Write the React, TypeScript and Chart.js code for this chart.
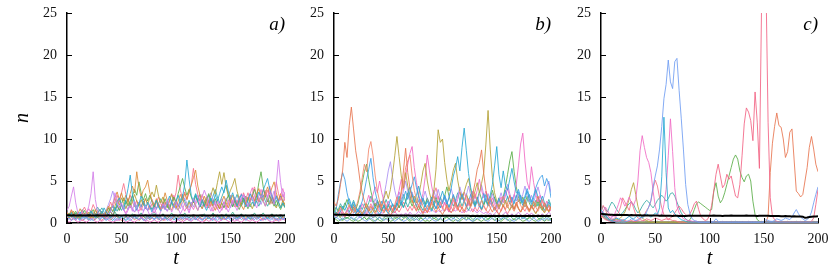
import React, { useEffect, useRef } from 'react';
import { Chart, registerables } from 'chart.js';
Chart.register(...registerables);

// time grid
const T = [
  0,2,4,6,8,10,12,14,16,18, 20,22,24,26,28,30,32,34,36,38,
  40,42,44,46,48,50,52,54,56,58, 60,62,64,66,68,70,72,74,76,78,
  80,82,84,86,88,90,92,94,96,98, 100,102,104,106,108,110,112,114,116,118,
  120,122,124,126,128,130,132,134,136,138, 140,142,144,146,148,150,152,154,156,158,
  160,162,164,166,168,170,172,174,176,178, 180,182,184,186,188,190,192,194,196,198,
  200,
];

const X_TICKS = [0, 50, 100, 150, 200];
const Y_TICKS = [0, 5, 10, 15, 20, 25];
const PANEL_LABELS = ['a)', 'b)', 'c)'];

// ---------- panel a ----------
const MEAN_A = [
  0.92,0.91,0.90,0.91,0.89,0.90,0.91,0.90,0.89,0.90, 0.91,0.90,0.89,0.90,0.91,0.90,0.89,0.90,0.90,0.91,
  0.90,0.89,0.90,0.91,0.90,0.89,0.90,0.91,0.90,0.89, 0.90,0.91,0.90,0.89,0.90,0.90,0.91,0.90,0.89,0.90,
  0.91,0.90,0.89,0.90,0.91,0.90,0.89,0.90,0.90,0.91, 0.90,0.89,0.90,0.91,0.90,0.89,0.90,0.90,0.91,0.90,
  0.89,0.90,0.91,0.90,0.89,0.90,0.90,0.91,0.90,0.89, 0.90,0.91,0.90,0.89,0.90,0.90,0.91,0.90,0.89,0.90,
  0.91,0.90,0.89,0.90,0.90,0.91,0.90,0.89,0.90,0.91, 0.90,0.89,0.90,0.90,0.91,0.90,0.89,0.90,0.91,0.90,
  0.89,
];
const A1 = [
  1.5,2.0,3.2,4.3,2.4,1.2,0.9,1.4,0.8,1.2, 2.0,3.5,6.1,2.8,1.4,1.0,0.7,1.1,0.6,0.9,
  1.4,2.2,3.6,2.5,1.8,2.4,1.6,1.0,1.5,2.1, 1.4,2.6,1.8,1.1,0.8,1.3,2.0,1.5,0.9,1.2,
  1.8,1.1,0.7,1.4,2.3,1.6,2.8,2.0,1.3,1.9, 2.6,1.7,1.1,1.6,2.4,1.8,1.2,2.0,2.9,2.2,
  1.5,2.3,3.1,3.9,3.2,2.1,1.4,1.9,2.6,1.8, 1.2,1.7,2.5,1.9,1.3,2.0,2.7,2.1,1.5,2.2,
  2.9,3.4,2.6,1.9,2.5,3.1,2.4,1.8,2.6,3.3, 2.7,2.0,3.0,3.8,2.9,2.2,4.6,7.5,4.8,3.1,
  3.7,
];
const A2 = [
  1.0,0.7,1.2,0.8,0.5,0.9,1.3,0.8,0.6,1.1, 0.8,1.4,1.0,0.7,1.2,1.6,1.1,1.8,1.3,0.9,
  1.5,2.1,1.4,2.4,3.0,2.2,1.6,2.8,4.1,5.7, 3.4,2.2,1.5,2.3,3.2,2.4,1.7,2.5,1.9,1.3,
  2.0,2.7,1.9,1.4,2.1,1.6,2.4,3.2,2.5,1.8, 2.6,3.3,2.4,3.1,4.6,7.5,5.2,3.3,2.5,3.4,
  2.6,1.9,2.8,2.1,1.5,2.2,3.0,2.3,3.4,2.6, 3.5,4.3,3.6,5.1,3.8,2.9,3.6,2.7,2.0,2.8,
  3.4,2.6,1.9,2.7,3.5,2.8,2.1,2.9,3.7,3.0, 3.9,4.6,5.3,4.0,3.1,2.4,3.2,2.5,1.8,2.4,
  1.9,
];
const A3 = [
  1.2,0.8,1.5,1.0,0.6,1.1,1.7,1.2,0.8,1.3, 1.0,0.6,1.1,1.6,1.0,0.7,1.2,0.8,1.4,2.0,
  1.5,2.3,3.0,3.7,2.8,3.6,2.6,3.3,2.4,3.5, 4.4,3.6,6.1,4.2,3.1,3.9,4.3,5.1,3.6,2.7,
  2.1,2.9,2.2,1.6,2.5,3.6,2.7,2.0,1.5,2.3, 1.8,2.6,3.4,2.7,3.5,2.8,3.9,4.5,5.4,6.3,
  4.4,3.3,2.5,3.2,2.4,1.8,2.6,2.0,1.5,2.2, 1.7,2.5,3.2,2.4,1.8,2.6,3.3,2.5,1.9,2.7,
  2.1,1.6,2.4,3.1,2.5,3.3,2.6,3.4,4.1,3.2, 2.6,3.5,4.3,3.4,4.2,4.9,3.6,2.7,3.5,2.6,
  2.0,
];
const A4 = [
  0.8,1.2,0.7,1.0,1.4,0.9,0.6,1.0,1.5,1.1, 0.7,1.1,1.6,1.0,0.6,1.0,1.4,0.9,1.3,1.8,
  1.3,0.9,1.5,2.1,1.5,2.3,3.0,2.2,2.9,2.1, 3.2,4.0,3.3,4.9,3.6,2.7,3.5,2.6,3.3,2.5,
  1.9,2.7,2.0,1.5,2.2,2.9,2.1,1.6,2.4,3.1, 2.4,3.5,4.4,5.3,4.2,3.3,4.0,3.1,2.4,3.2,
  2.5,1.9,2.7,2.0,2.8,3.5,2.7,2.0,2.9,2.2, 1.7,2.4,1.8,2.6,3.3,2.5,1.9,2.7,2.1,1.6,
  2.3,3.0,2.3,1.7,2.5,3.2,4.0,3.1,4.8,6.1, 4.3,3.2,2.5,3.3,2.6,2.0,2.7,2.1,1.6,2.3,
  1.8,
];
const A5 = [
  0.9,0.6,1.0,1.4,0.9,0.6,1.0,0.7,1.2,0.8, 1.3,0.9,0.6,1.0,1.5,1.0,0.7,1.1,0.8,1.3,
  1.9,1.4,2.0,2.8,2.1,3.0,2.3,1.7,2.4,1.8, 2.6,3.4,2.6,2.0,2.8,2.1,2.9,2.2,3.0,3.7,
  3.1,4.5,3.2,2.4,3.1,2.4,1.8,2.6,3.4,2.6, 2.0,1.5,2.2,2.9,2.2,1.7,2.5,1.9,2.7,2.0,
  1.5,2.2,1.7,2.4,3.1,2.4,3.3,4.2,3.4,4.8, 6.1,4.6,6.0,4.3,3.2,3.9,4.5,5.3,3.8,2.9,
  2.2,2.9,2.2,3.0,2.3,1.7,2.4,3.2,2.5,3.3, 2.6,2.0,2.8,2.2,3.0,2.3,1.8,2.5,1.9,2.7,
  2.2,
];
const A6 = [
  1.3,0.9,1.6,1.1,0.7,1.2,0.8,1.4,1.9,1.3, 0.9,1.4,2.2,1.6,1.1,1.6,1.0,0.7,1.1,1.7,
  2.5,1.8,2.6,3.3,2.5,3.6,4.7,3.4,2.6,3.3, 2.5,1.9,2.7,2.0,1.5,2.2,2.9,2.2,1.6,2.3,
  1.7,2.4,3.1,2.3,1.7,2.5,1.9,2.7,3.5,2.7, 3.6,5.7,3.9,2.9,3.7,2.8,3.6,4.5,6.5,4.6,
  3.4,2.6,3.4,2.6,2.0,2.7,2.0,2.8,2.1,1.6, 2.3,1.8,2.5,1.9,2.6,3.3,2.5,1.9,2.7,2.0,
  2.8,3.6,2.8,3.6,2.7,3.5,4.3,3.3,2.5,3.2, 4.0,3.1,3.9,3.0,2.3,3.1,4.9,3.5,2.7,3.4,
  2.6,
];
const A7 = [
  0.7,1.1,0.8,0.5,0.9,1.3,0.9,0.6,1.0,0.7, 1.1,0.8,1.2,0.8,1.3,0.9,1.4,1.0,1.5,2.2,
  2.9,3.8,2.8,2.0,2.7,2.0,1.5,2.1,1.6,2.3, 1.7,1.3,1.9,2.5,1.9,1.4,2.0,1.5,2.2,2.8,
  2.2,1.6,2.3,1.8,2.5,1.9,1.4,2.0,2.7,2.1, 1.6,2.3,1.7,2.4,3.0,2.3,1.8,2.5,1.9,2.6,
  3.3,2.6,2.0,2.7,2.1,2.9,3.6,2.8,2.1,2.8, 2.2,2.9,2.3,3.0,2.4,1.8,2.5,3.1,2.4,3.2,
  2.5,3.3,2.6,2.0,2.7,3.4,2.7,3.5,2.8,2.2, 2.9,3.7,2.9,2.3,3.0,3.8,3.0,2.4,3.1,2.5,
  3.2,
];
const A8 = [
  1.1,0.8,1.3,0.9,1.2,0.8,1.1,1.6,1.1,0.7, 1.0,1.5,1.0,1.4,1.9,1.4,1.8,1.3,0.9,1.3,
  1.8,1.3,1.9,1.4,2.0,1.5,2.1,2.7,2.0,2.6, 3.3,2.5,1.9,2.5,1.9,2.6,2.0,1.5,2.1,1.6,
  2.2,1.7,2.3,2.9,2.2,1.7,2.3,1.8,2.5,1.9, 2.6,2.0,2.7,3.4,2.6,2.0,2.7,2.1,2.8,3.5,
  2.7,3.4,2.6,2.0,2.7,3.3,2.5,3.2,4.0,3.1, 2.4,3.1,3.8,4.5,3.4,2.6,2.0,2.7,3.4,2.6,
  2.0,2.6,3.2,2.5,1.9,2.5,2.0,2.6,2.0,2.7, 3.3,2.6,2.0,2.6,3.3,2.5,2.0,2.6,3.2,2.5,
  1.9,
];
const A9 = [
  0.6,1.0,0.7,1.1,0.8,0.5,0.8,1.2,0.8,1.2, 1.7,1.2,0.8,1.2,0.8,1.1,0.7,1.0,1.4,1.0,
  1.4,1.0,1.5,2.0,1.5,2.1,1.6,1.2,1.7,2.3, 1.7,1.3,1.8,1.4,2.0,2.6,2.0,1.5,2.1,1.6,
  1.2,1.7,2.3,1.7,2.4,1.8,1.4,1.9,2.6,3.3, 2.5,1.9,2.5,1.9,1.4,2.0,1.5,2.1,1.6,2.2,
  2.9,2.2,1.7,2.3,1.8,2.5,1.9,1.4,2.0,2.6, 2.0,1.5,2.1,1.6,2.2,2.9,2.2,2.8,2.1,2.8,
  3.5,2.7,2.1,2.8,3.5,4.2,3.2,2.5,3.2,4.0, 3.1,3.9,3.0,4.4,3.3,2.6,3.3,2.5,3.3,4.1,
  3.1,
];
const A10 = [
  0.4,0.6,0.3,0.5,0.8,0.5,0.3,0.6,0.4,0.7, 0.5,0.3,0.6,0.9,0.6,0.4,0.7,0.5,0.3,0.5,
  0.8,0.5,0.3,0.6,0.4,0.7,1.0,0.7,0.5,0.3, 0.5,0.8,0.6,0.4,0.6,0.3,0.5,0.8,0.5,0.7,
  0.4,0.6,0.9,0.6,0.4,0.6,0.3,0.5,0.7,0.5, 0.3,0.6,0.4,0.7,0.5,0.8,0.5,0.3,0.6,0.4,
  0.7,0.5,0.3,0.5,0.8,0.6,0.4,0.7,0.5,0.3, 0.6,0.9,0.6,0.4,0.6,0.3,0.5,0.8,0.5,0.7,
  0.4,0.6,0.3,0.5,0.8,0.5,0.7,0.4,0.6,0.9, 0.6,0.4,0.6,0.3,0.5,0.7,0.5,0.3,0.6,0.4,
  0.6,
];
const A11 = [
  0.8,1.1,0.7,0.9,1.2,0.8,0.5,0.8,1.1,0.7, 0.4,0.7,1.0,0.6,0.9,1.2,0.8,0.5,0.7,1.0,
  0.6,0.9,1.3,0.9,0.6,0.8,0.5,0.7,1.0,0.7, 1.1,0.7,0.5,0.8,1.2,0.8,0.6,0.9,0.6,1.0,
  1.3,0.9,0.6,0.8,1.1,0.7,0.5,0.8,1.2,0.8, 0.5,0.8,1.1,0.8,1.2,0.8,0.6,0.9,0.6,0.4,
  0.7,1.0,0.7,1.1,0.7,0.5,0.8,1.2,0.8,1.0, 0.7,0.5,0.8,1.1,0.7,0.9,1.3,0.9,0.6,0.8,
  1.1,0.7,1.0,0.7,0.5,0.8,1.2,0.8,0.6,0.9, 1.2,0.8,0.5,0.8,1.1,0.7,1.0,0.7,0.5,0.8,
  1.1,
];
const A12 = [
  0.2,0.1,0.3,0.5,0.3,0.1,0.2,0.4,0.2,0.1, 0.3,0.6,0.4,0.2,0.1,0.3,0.2,0.4,0.6,0.3,
  0.2,0.1,0.2,0.4,0.3,0.5,0.3,0.1,0.2,0.4, 0.2,0.1,0.3,0.5,0.7,0.4,0.2,0.3,0.1,0.2,
  0.4,0.2,0.1,0.3,0.5,0.3,0.6,0.4,0.2,0.1, 0.2,0.4,0.2,0.1,0.3,0.5,0.3,0.2,0.4,0.6,
  0.4,0.2,0.1,0.2,0.4,0.2,0.3,0.5,0.3,0.1, 0.2,0.4,0.6,0.4,0.2,0.1,0.3,0.2,0.4,0.2,
  0.1,0.3,0.5,0.3,0.2,0.4,0.2,0.1,0.3,0.5, 0.3,0.6,0.4,0.2,0.1,0.2,0.4,0.2,0.3,0.5,
  0.3,
];
const A13 = [
  0.6,0.4,0.7,0.5,0.3,0.6,0.9,0.6,0.8,0.5, 0.3,0.5,0.8,0.5,0.7,0.4,0.6,0.9,0.6,0.4,
  0.6,0.8,0.5,0.3,0.5,0.8,0.6,0.4,0.7,0.5, 0.8,0.5,0.7,1.0,0.7,0.5,0.3,0.5,0.8,0.6,
  0.4,0.6,0.4,0.7,0.5,0.8,0.5,0.3,0.6,0.9, 0.6,0.4,0.7,0.5,0.3,0.5,0.7,0.5,0.8,0.5,
  0.3,0.6,0.4,0.7,0.9,0.6,0.4,0.6,0.4,0.7, 0.5,0.3,0.6,0.4,0.7,0.5,0.8,0.5,0.3,0.5,
  0.8,0.6,0.4,0.6,0.9,0.6,0.4,0.7,0.5,0.3, 0.5,0.7,0.5,0.8,0.5,0.3,0.6,0.4,0.7,0.5,
  0.4,
];
const A14 = [
  0.9,0.6,0.4,0.7,0.5,0.8,0.5,0.3,0.5,0.8, 0.6,0.9,0.6,0.4,0.7,0.5,0.3,0.6,0.9,0.6,
  0.4,0.6,0.9,0.7,0.5,0.3,0.5,0.8,0.6,0.9, 0.6,0.4,0.6,0.3,0.5,0.8,0.5,0.7,0.4,0.6,
  0.9,0.6,0.4,0.6,0.3,0.5,0.8,0.6,0.4,0.7, 1.0,0.7,0.5,0.3,0.6,0.4,0.7,0.5,0.8,0.6,
  0.4,0.7,0.5,0.3,0.5,0.8,0.5,0.7,1.0,0.7, 0.5,0.7,0.4,0.6,0.9,0.6,0.4,0.6,0.8,0.5,
  0.7,0.4,0.6,0.9,0.6,0.4,0.7,0.5,0.8,0.6, 0.4,0.6,0.9,0.6,0.8,0.5,0.3,0.6,0.4,0.7,
  0.5,
];
const A15 = [
  0.5,0.8,1.0,0.7,0.4,0.6,0.4,0.7,0.9,0.6, 0.8,0.5,0.3,0.5,0.8,0.6,0.9,0.6,0.4,0.7,
  0.5,0.3,0.6,0.9,0.6,0.8,0.5,0.3,0.5,0.8, 0.6,0.9,0.6,0.4,0.7,0.5,0.3,0.6,0.4,0.7,
  0.5,0.8,0.5,0.3,0.5,0.7,0.5,0.8,0.6,0.4, 0.6,0.4,0.7,0.5,0.8,0.5,0.3,0.5,0.8,0.6,
  0.9,0.6,0.4,0.6,0.4,0.7,0.5,0.3,0.6,0.9, 0.6,0.4,0.7,0.5,0.8,0.5,0.3,0.6,0.4,0.7,
  1.0,0.7,0.5,0.7,0.4,0.6,0.4,0.7,0.5,0.3, 0.6,0.4,0.7,0.5,0.8,0.6,0.4,0.6,0.8,0.5,
  0.7,
];

// ---------- panel b ----------
const MEAN_B = [
  1.00,0.99,0.98,0.99,0.97,0.98,0.96,0.97,0.96,0.95, 0.96,0.95,0.94,0.95,0.93,0.94,0.93,0.92,0.93,0.92,
  0.91,0.92,0.91,0.90,0.91,0.90,0.89,0.90,0.89,0.90, 0.89,0.88,0.89,0.88,0.89,0.88,0.87,0.88,0.87,0.88,
  0.87,0.88,0.87,0.86,0.87,0.86,0.87,0.86,0.87,0.86, 0.87,0.86,0.85,0.86,0.85,0.86,0.85,0.86,0.85,0.86,
  0.85,0.86,0.85,0.84,0.85,0.84,0.85,0.84,0.85,0.84, 0.85,0.84,0.85,0.84,0.85,0.84,0.85,0.84,0.85,0.84,
  0.85,0.84,0.85,0.84,0.85,0.84,0.85,0.84,0.85,0.84, 0.85,0.84,0.85,0.84,0.85,0.84,0.85,0.84,0.85,0.84,
  0.85,
];
const B1 = [
  2.5,2.0,2.9,4.6,6.3,9.6,7.8,11.6,13.8,11.2, 8.6,7.0,5.0,3.6,2.6,1.9,1.4,2.0,1.5,1.1,
  1.6,2.3,1.7,1.2,1.8,1.3,0.9,1.4,2.1,1.5, 2.4,3.8,6.2,8.9,6.0,4.1,2.8,1.9,1.4,2.0,
  1.5,1.1,1.6,1.2,1.8,2.5,1.8,1.3,1.9,1.4, 1.0,1.5,2.2,1.6,1.2,1.7,2.5,1.8,1.3,1.9,
  1.4,2.0,2.9,2.1,3.5,4.8,6.4,7.2,8.7,5.9, 3.9,2.6,1.8,1.3,1.9,1.4,1.0,1.5,2.2,1.6,
  2.4,3.3,2.4,1.7,2.5,1.8,1.3,1.9,2.8,2.0, 1.5,2.1,1.6,2.4,3.2,2.3,1.7,2.4,1.8,1.4,
  2.0,
];
const B2 = [
  1.2,0.8,1.3,1.9,1.4,1.0,1.5,2.2,1.6,1.2, 1.8,2.6,3.8,5.4,7.0,6.1,8.8,9.7,8.0,5.6,
  3.8,2.6,1.9,2.6,1.9,1.4,2.0,1.5,2.2,3.1, 2.3,3.4,4.8,6.6,7.4,8.1,5.7,3.9,2.8,2.0,
  2.8,2.0,1.5,2.1,1.6,2.3,3.2,2.4,1.8,2.5, 1.9,1.4,2.0,1.5,2.2,3.0,2.2,1.6,2.3,1.7,
  2.4,3.3,2.5,1.9,2.6,3.5,2.6,2.0,2.7,2.0, 1.5,2.1,3.0,2.2,1.6,2.3,1.7,2.4,3.2,2.4,
  1.8,2.5,1.8,1.4,2.0,2.8,2.1,1.6,2.2,1.7, 1.3,1.8,2.6,1.9,1.4,2.0,2.8,2.1,1.5,2.1,
  1.6,
];
const B3 = [
  1.0,1.6,3.4,4.9,6.0,5.2,3.6,2.5,1.8,2.5, 1.8,1.3,1.9,2.6,3.8,5.2,6.4,7.7,5.4,3.7,
  2.6,1.9,2.6,1.9,1.4,2.0,2.8,2.1,1.5,2.1, 2.9,2.1,2.9,3.8,2.8,3.7,4.6,5.5,4.2,3.1,
  2.3,3.0,2.2,1.6,2.3,3.1,2.3,1.7,2.4,1.8, 2.5,3.3,2.5,1.8,2.5,3.4,2.5,1.9,2.6,3.4,
  2.6,1.9,2.6,3.4,2.5,1.9,2.6,1.9,2.7,3.5, 2.6,2.0,2.7,2.0,1.5,2.1,2.9,2.2,3.0,3.9,
  3.0,2.3,3.1,2.3,3.1,4.0,3.1,2.4,3.2,4.1, 3.2,2.5,3.3,4.2,4.9,5.4,5.7,4.4,5.3,4.6,
  3.0,
];
const B4 = [
  0.8,1.2,0.9,1.4,2.0,1.5,2.2,2.9,2.1,1.5, 1.1,1.6,1.2,0.8,1.2,1.8,1.3,0.9,1.3,1.9,
  1.4,1.0,1.5,2.1,1.5,1.1,1.6,2.3,1.7,2.4, 3.2,2.4,1.8,2.5,3.4,4.3,3.3,2.5,3.3,4.4,
  3.3,2.5,1.9,2.6,1.9,1.4,2.0,2.8,2.1,2.9, 3.8,2.9,2.2,3.0,4.1,5.6,6.5,7.9,6.2,9.0,
  11.3,8.6,5.9,4.2,3.1,2.3,3.1,2.3,1.7,2.4, 3.4,2.6,3.3,4.6,6.8,9.1,5.8,4.2,6.2,4.5,
  3.9,5.2,6.5,4.9,3.6,3.7,2.8,2.1,2.9,3.8, 2.9,2.2,3.0,4.0,3.1,2.4,3.2,2.4,1.8,2.5,
  1.9,
];
const B5 = [
  0.9,1.3,1.0,0.7,1.1,0.8,1.2,0.8,1.3,1.9, 1.4,1.0,1.5,1.1,1.6,2.3,1.7,1.2,1.8,1.3,
  1.9,2.7,2.0,2.9,3.8,2.9,4.0,5.8,8.0,10.3, 7.9,5.6,4.2,6.0,4.4,3.2,2.4,3.2,2.4,3.3,
  4.6,6.2,7.1,5.0,3.6,2.6,3.8,6.4,11.1,9.6, 10.0,7.2,5.2,3.8,5.0,6.3,7.1,5.1,3.7,2.8,
  3.7,4.6,5.3,3.9,2.9,3.8,4.8,3.6,4.7,6.0, 9.4,13.4,8.8,5.4,3.6,2.6,1.9,2.6,1.9,2.7,
  2.0,1.5,2.1,1.6,2.3,1.7,1.3,1.8,2.5,1.9, 1.4,2.0,1.5,1.1,1.6,2.2,1.6,1.2,1.7,1.3,
  1.8,
];
const B6 = [
  1.1,0.8,1.2,1.7,1.2,0.9,1.3,1.9,1.4,2.0, 1.5,1.1,1.6,2.3,1.7,2.4,3.3,2.5,3.4,4.3,
  3.6,5.0,3.6,2.6,1.9,2.6,1.9,1.4,2.0,2.8, 3.9,5.2,4.0,5.6,7.0,8.3,9.1,6.6,4.8,3.4,
  2.5,3.5,5.4,8.1,6.2,4.4,3.2,2.4,3.2,2.4, 1.8,2.5,1.8,1.3,1.9,2.7,2.0,2.8,3.7,2.8,
  3.7,2.8,2.1,2.9,3.8,2.9,3.9,5.2,3.9,3.0, 3.8,3.0,2.2,3.0,2.2,1.7,2.3,3.1,2.4,3.2,
  4.1,3.1,2.4,3.2,4.6,6.8,9.4,10.7,7.4,4.9, 4.0,6.7,4.8,3.4,2.5,3.3,2.5,1.9,2.6,1.9,
  1.4,
];
const B7 = [
  0.7,1.0,1.4,1.0,0.7,1.1,1.6,1.2,0.8,1.2, 1.7,1.3,1.8,1.3,0.9,1.4,2.0,1.5,2.1,2.9,
  2.2,1.6,2.3,3.2,4.6,6.2,7.3,5.4,3.9,2.8, 3.7,2.8,3.8,5.0,3.8,2.8,3.7,2.8,2.1,2.8,
  2.1,2.9,3.8,2.8,2.1,2.9,3.9,3.0,4.0,3.0, 2.3,3.1,2.3,3.1,4.1,3.1,2.4,3.2,4.3,3.3,
  2.5,3.3,4.4,3.3,2.5,3.3,2.5,3.4,4.5,3.4, 2.6,3.5,2.6,3.5,2.6,2.0,2.7,3.6,2.7,3.6,
  4.6,3.5,2.6,3.4,2.6,3.5,2.6,3.4,4.4,3.3, 2.5,3.3,2.5,3.3,4.3,3.3,2.5,3.3,4.4,5.0,
  3.6,
];
const B8 = [
  1.3,1.9,1.4,2.0,1.5,2.1,2.8,2.1,1.5,2.2, 1.6,2.3,3.4,4.8,6.1,7.0,5.2,3.8,2.7,2.0,
  2.7,2.0,1.5,2.1,1.6,2.2,1.6,1.2,1.7,2.4, 1.8,2.5,1.9,2.6,3.6,2.7,2.0,2.7,2.0,1.5,
  2.1,2.9,2.2,3.0,2.2,1.6,2.3,3.1,2.3,3.1, 2.3,3.2,4.3,3.2,2.4,3.3,2.5,1.9,2.6,3.5,
  2.6,3.5,2.6,2.0,2.7,2.0,2.8,3.7,2.8,2.1, 2.8,2.1,2.9,3.9,2.9,2.2,3.0,2.3,3.1,4.3,
  5.8,7.4,8.5,6.1,4.3,3.1,2.3,3.1,2.3,3.2, 2.4,1.8,2.5,1.9,2.6,1.9,1.5,2.1,1.6,2.2,
  1.7,
];
const B9 = [
  1.5,1.1,1.6,2.3,1.7,2.4,1.8,1.3,1.9,2.7, 2.0,1.5,2.1,1.6,2.3,1.7,2.4,3.2,2.4,1.8,
  2.5,1.9,1.4,2.0,2.8,2.1,1.6,2.2,1.7,2.4, 1.8,2.5,3.4,2.6,1.9,2.6,3.5,2.7,2.0,2.7,
  2.0,1.5,2.1,2.9,2.2,3.0,2.3,1.7,2.4,1.8, 2.5,3.3,2.5,1.9,2.6,2.0,2.7,3.6,2.7,2.0,
  2.7,2.0,1.5,2.1,2.8,2.1,2.8,2.1,1.6,2.2, 2.9,2.2,3.0,2.3,3.1,2.3,1.7,2.4,3.2,2.4,
  3.2,2.4,1.8,2.5,3.3,2.5,3.3,2.5,1.9,2.6, 3.4,2.6,2.0,2.7,2.0,2.7,2.0,1.5,2.1,2.8,
  2.1,
];
const B10 = [
  0.9,1.3,0.9,1.4,1.0,0.7,1.1,0.8,1.2,1.7, 1.3,0.9,1.4,1.0,1.5,1.1,1.6,2.3,1.7,2.4,
  1.8,1.3,1.9,1.4,2.0,1.5,2.1,1.6,1.2,1.7, 1.3,1.8,2.5,1.9,1.4,2.0,1.5,2.1,1.6,2.2,
  1.7,1.2,1.8,1.3,1.9,2.6,3.4,4.2,3.1,2.3, 1.7,2.4,1.8,1.3,1.9,1.4,2.0,1.5,2.1,1.6,
  1.2,1.7,2.4,1.8,1.3,1.9,1.4,2.0,1.5,2.1, 1.6,1.2,1.7,2.4,1.8,1.3,1.9,1.4,2.0,1.5,
  1.1,1.6,2.2,1.6,2.3,1.7,1.3,1.8,1.4,2.0, 1.5,2.1,1.6,1.2,1.7,2.4,1.8,1.3,1.9,1.4,
  2.0,
];
const B11 = [
  0.4,0.7,0.5,0.3,0.6,0.4,0.2,0.4,0.7,0.5, 0.3,0.5,0.8,0.5,0.3,0.2,0.4,0.6,0.4,0.2,
  0.4,0.7,0.5,0.3,0.5,0.3,0.6,0.4,0.2,0.4, 0.6,0.4,0.2,0.3,0.5,0.8,0.5,0.3,0.5,0.3,
  0.2,0.4,0.6,0.4,0.7,0.5,0.3,0.2,0.4,0.6, 0.4,0.2,0.3,0.5,0.3,0.6,0.4,0.2,0.4,0.7,
  0.5,0.3,0.5,0.3,0.2,0.4,0.6,0.4,0.7,0.5, 0.3,0.2,0.4,0.6,0.4,0.2,0.3,0.5,0.8,0.5,
  0.3,0.5,0.3,0.2,0.4,0.6,0.4,0.7,0.5,0.3, 0.2,0.4,0.6,0.4,0.2,0.3,0.5,0.3,0.6,0.4,
  0.3,
];
const B12 = [
  0.6,0.4,0.2,0.4,0.3,0.5,0.7,0.5,0.3,0.2, 0.4,0.2,0.3,0.5,0.7,0.4,0.6,0.4,0.2,0.3,
  0.5,0.3,0.2,0.4,0.6,0.4,0.2,0.3,0.5,0.7, 0.5,0.3,0.5,0.7,0.4,0.2,0.4,0.3,0.5,0.3,
  0.6,0.4,0.2,0.3,0.2,0.4,0.6,0.4,0.3,0.5, 0.3,0.5,0.7,0.5,0.3,0.2,0.4,0.3,0.2,0.4,
  0.6,0.4,0.6,0.4,0.2,0.3,0.5,0.3,0.2,0.4, 0.3,0.5,0.7,0.5,0.3,0.5,0.3,0.2,0.4,0.6,
  0.4,0.2,0.3,0.5,0.3,0.6,0.4,0.2,0.3,0.5, 0.7,0.5,0.3,0.2,0.4,0.6,0.4,0.2,0.4,0.3,
  0.5,
];
const B13 = [
  1.0,0.8,1.1,1.4,1.0,0.7,1.0,1.3,1.0,0.8, 1.1,0.8,0.6,0.9,1.2,0.9,1.3,1.0,0.7,0.9,
  1.2,0.9,1.3,1.0,0.8,1.1,0.8,1.1,1.4,1.0, 0.8,1.1,0.8,1.2,0.9,1.3,1.0,0.8,1.1,1.4,
  1.1,1.4,1.2,1.5,1.3,1.6,1.4,1.2,1.5,1.3, 1.6,1.4,1.7,1.5,1.3,1.6,1.4,1.7,1.5,1.2,
  1.5,1.3,1.6,1.4,1.7,1.4,1.2,1.5,1.3,1.1, 1.3,1.0,1.2,0.9,1.1,1.4,1.1,0.8,1.0,1.3,
  1.0,0.8,1.1,0.8,1.0,1.3,1.0,0.7,0.9,1.2, 0.9,1.2,0.9,0.7,1.0,0.8,1.1,0.8,1.0,1.3,
  1.0,
];
const B14 = [
  0.8,0.6,0.9,0.6,0.4,0.7,0.5,0.8,0.6,0.4, 0.6,0.9,0.7,0.5,0.7,0.4,0.6,0.9,0.6,0.8,
  0.5,0.7,0.4,0.6,0.9,0.6,0.8,0.5,0.7,0.4, 0.6,0.8,0.6,0.9,0.6,0.4,0.7,0.5,0.8,0.5,
  0.7,0.4,0.6,0.9,0.6,0.8,0.5,0.7,0.4,0.6, 0.9,0.6,0.8,0.5,0.7,0.5,0.8,0.6,0.4,0.7,
  0.5,0.8,0.5,0.7,0.4,0.6,0.9,0.6,0.8,0.5, 0.7,0.4,0.6,0.9,0.7,0.5,0.7,0.4,0.6,0.8,
  0.6,0.9,0.6,0.4,0.7,0.5,0.8,0.5,0.7,0.4, 0.6,0.8,0.6,0.9,0.6,0.4,0.7,0.5,0.8,0.6,
  0.5,
];

// ---------- panel c ----------
const MEAN_C = [
  1.10,1.06,1.03,1.00,0.98,0.97,0.96,0.97,0.95,0.96, 0.95,0.94,0.95,0.93,0.94,0.92,0.93,0.91,0.92,0.90,
  0.91,0.89,0.90,0.88,0.89,0.90,0.88,0.87,0.88,0.86, 0.87,0.85,0.86,0.84,0.85,0.86,0.84,0.85,0.83,0.84,
  0.85,0.86,0.85,0.87,0.86,0.85,0.87,0.86,0.85,0.86, 0.87,0.86,0.88,0.87,0.85,0.86,0.84,0.85,0.86,0.87,
  0.88,0.87,0.86,0.85,0.86,0.87,0.86,0.88,0.87,0.86, 0.85,0.86,0.84,0.85,0.86,0.87,0.85,0.86,0.84,0.83,
  0.84,0.82,0.83,0.81,0.80,0.82,0.80,0.79,0.78,0.80, 0.78,0.76,0.77,0.75,0.62,0.66,0.72,0.74,0.76,0.78,
  0.80,
];
const C1 = [
  1.2,0.8,0.6,0.4,0.3,0.2,0.2,0.1,0.1,0.1, 0.1,0.1,0.2,0.3,0.5,0.4,0.3,0.4,0.6,0.7,
  0.9,1.3,1.9,2.7,4.3,5.6,6.8,8.8,11.5,14.8, 16.5,19.4,16.8,16.0,19.2,19.6,15.8,12.4,8.7,4.6,
  2.2,1.1,0.5,0.3,0.2,0.1,0.1,0.1,0.1,0.1, 0.1,0.1,0.2,0.5,0.2,0.1,0.1,0.1,0.1,0.1,
  0.1,0.1,0.1,0.1,0.1,0.1,0.1,0.1,0.1,0.1, 0.1,0.1,0.1,0.1,0.1,0.2,0.4,0.3,0.2,0.2,
  0.3,0.5,0.4,0.3,0.4,0.6,0.5,0.4,0.7,1.2, 1.6,1.1,0.7,0.5,0.3,0.4,0.7,1.3,2.4,3.4,
  4.3,
];
const C2 = [
  1.6,1.2,0.9,0.6,0.4,0.3,0.4,0.6,0.5,0.4, 0.3,0.4,0.6,0.8,0.6,0.5,0.7,0.9,0.7,0.6,
  0.8,1.1,0.9,0.7,0.9,1.2,1.0,1.8,5.5,12.6, 6.0,1.8,1.2,1.5,1.1,0.8,0.6,0.4,0.3,0.2,
  0.1,0.1,0.1,0.1,0.1,0.1,0.1,0.1,0.1,0.1, 0.1,0.1,0.1,0.1,0.1,0.1,0.1,0.1,0.1,0.1,
  0.1,0.1,0.1,0.1,0.1,0.1,0.1,0.1,0.1,0.1, 0.1,0.1,0.1,0.1,0.1,0.1,0.1,0.1,0.1,0.1,
  0.1,0.1,0.1,0.1,0.1,0.1,0.1,0.1,0.1,0.1, 0.1,0.1,0.1,0.1,0.1,0.1,0.1,0.1,0.1,0.1,
  0.1,
];
const C3 = [
  0.8,1.4,1.9,1.5,1.0,0.7,0.9,1.5,2.2,3.0, 2.6,2.0,2.4,3.1,2.4,2.1,2.8,5.0,8.6,10.4,
  9.0,7.8,7.2,6.0,3.8,2.0,1.2,0.8,1.0,2.2, 4.0,8.0,12.4,8.5,4.2,2.0,1.2,0.8,0.5,0.4,
  0.3,0.3,0.2,0.2,0.2,0.1,0.1,0.1,0.1,0.1, 0.1,0.1,0.1,0.1,0.1,0.1,0.1,0.1,0.1,0.1,
  0.1,0.1,0.1,0.1,0.1,0.1,0.1,0.1,0.1,0.1, 0.1,0.1,0.1,0.1,0.1,0.1,0.1,0.1,0.1,0.1,
  0.1,0.1,0.1,0.1,0.1,0.1,0.1,0.1,0.1,0.1, 0.1,0.1,0.1,0.1,0.1,0.1,0.1,0.1,0.1,0.1,
  0.1,
];
const C4 = [
  1.0,0.6,0.4,0.3,0.2,0.2,0.3,0.2,0.2,0.3, 0.4,0.3,0.2,0.2,0.3,0.2,0.2,0.3,0.4,0.3,
  0.3,0.5,0.4,0.3,0.4,0.6,0.5,0.4,0.3,0.4, 0.5,0.4,0.6,0.8,1.2,1.6,2.0,1.7,1.3,1.0,
  0.8,1.1,1.6,2.3,2.6,1.6,0.8,0.5,0.3,0.4, 0.9,2.1,3.9,5.8,7.0,5.6,4.2,4.6,5.8,5.2,
  5.6,4.4,3.2,3.0,4.6,8.0,11.8,13.7,13.2,12.2, 9.8,15.6,12.0,6.5,26.0,30.0,29.0,12.0,3.0,0.8,
  0.4,0.2,0.1,0.1,0.1,0.1,0.1,0.1,0.1,0.1, 0.1,0.1,0.1,0.1,0.1,0.1,0.1,0.2,0.6,2.2,
  4.0,
];
const C5 = [
  1.3,2.1,1.6,1.0,0.6,0.4,0.5,0.8,1.2,1.9, 3.0,2.5,2.0,1.5,2.6,1.8,1.0,0.6,0.5,0.7,
  1.0,1.5,1.9,2.6,4.1,5.1,4.4,3.0,1.8,1.0, 0.7,0.5,0.4,0.3,0.3,0.2,0.1,0.1,0.1,0.1,
  0.1,0.1,0.1,0.1,0.1,0.1,0.1,0.1,0.1,0.1, 0.1,0.1,0.1,0.1,0.1,0.1,0.1,0.1,0.1,0.1,
  0.1,0.1,0.1,0.1,0.1,0.1,0.1,0.1,0.1,0.1, 0.1,0.1,0.1,0.1,0.1,0.1,0.1,0.1,0.1,0.1,
  0.1,0.1,0.1,0.1,0.1,0.1,0.1,0.1,0.1,0.1, 0.1,0.1,0.1,0.1,0.1,0.1,0.1,0.1,0.1,0.1,
  0.1,
];
const C6 = [
  1.1,0.8,0.5,0.4,0.3,0.3,0.4,0.5,0.4,0.6, 0.9,1.3,2.0,2.9,4.0,4.8,3.4,2.0,1.1,0.6,
  0.4,0.3,0.2,0.1,0.1,0.1,0.1,0.1,0.1,0.1, 0.1,0.1,0.1,0.1,0.1,0.1,0.1,0.1,0.1,0.1,
  0.1,0.1,0.1,0.1,0.1,0.1,0.1,0.1,0.1,0.1, 0.1,0.1,0.1,0.1,0.1,0.1,0.1,0.1,0.1,0.1,
  0.1,0.1,0.1,0.1,0.1,0.1,0.1,0.1,0.1,0.1, 0.1,0.1,0.1,0.1,0.1,0.1,0.1,0.1,0.1,0.1,
  0.1,0.1,0.1,0.1,0.1,0.1,0.1,0.1,0.1,0.1, 0.1,0.1,0.1,0.1,0.1,0.1,0.1,0.1,0.1,0.1,
  0.1,
];
const C7 = [
  1.4,2.0,1.7,1.3,2.0,2.5,2.2,1.7,1.3,1.0, 1.2,1.6,2.0,2.3,2.5,2.2,1.6,1.2,1.5,2.0,
  2.4,2.7,2.5,2.1,1.8,2.2,2.7,3.0,3.3,3.0, 2.6,2.9,3.5,3.6,3.2,2.5,1.8,1.2,0.8,0.5,
  0.3,0.2,0.1,0.1,0.1,0.1,0.1,0.1,0.1,0.1, 0.1,0.1,0.1,0.1,0.1,0.1,0.1,0.1,0.1,0.1,
  0.1,0.1,0.1,0.1,0.1,0.1,0.1,0.1,0.1,0.1, 0.1,0.1,0.1,0.1,0.1,0.1,0.1,0.1,0.1,0.1,
  0.1,0.1,0.1,0.1,0.1,0.1,0.1,0.1,0.1,0.1, 0.1,0.1,0.1,0.1,0.1,0.1,0.1,0.1,0.1,0.1,
  0.1,
];
const C8 = [
  1.2,0.9,0.6,0.4,0.3,0.2,0.2,0.1,0.1,0.1, 0.1,0.1,0.1,0.1,0.1,0.1,0.1,0.1,0.1,0.1,
  0.1,0.1,0.1,0.1,0.1,0.1,0.1,0.1,0.1,0.1, 0.1,0.1,0.1,0.1,0.1,0.1,0.1,0.1,0.1,0.1,
  0.2,0.4,0.9,1.6,2.3,2.5,2.3,2.1,1.9,1.7, 1.5,1.6,3.8,4.8,3.2,2.4,2.8,3.6,4.6,5.6,
  6.6,7.6,8.1,7.6,6.2,5.4,4.9,5.6,5.8,5.0, 2.6,1.0,0.4,0.2,0.1,0.1,0.1,0.1,0.1,0.1,
  0.1,0.1,0.1,0.1,0.1,0.1,0.1,0.1,0.1,0.1, 0.1,0.1,0.1,0.1,0.1,0.1,0.1,0.1,0.1,0.1,
  0.1,
];
const C9 = [
  0.9,0.7,0.5,0.4,0.3,0.2,0.2,0.1,0.1,0.1, 0.1,0.1,0.1,0.1,0.1,0.1,0.1,0.1,0.1,0.1,
  0.1,0.1,0.1,0.1,0.1,0.1,0.1,0.1,0.1,0.1, 0.1,0.1,0.1,0.1,0.1,0.1,0.1,0.1,0.1,0.1,
  0.1,0.1,0.1,0.1,0.1,0.1,0.1,0.1,0.1,0.1, 0.1,0.1,0.1,0.1,0.1,0.1,0.1,0.1,0.1,0.1,
  0.1,0.1,0.1,0.1,0.1,0.1,0.1,0.1,0.1,0.1, 0.1,0.1,0.1,0.1,0.1,0.1,0.1,0.8,6.0,9.5,
  11.5,13.1,11.6,11.4,10.0,7.8,8.5,10.8,11.2,7.5, 3.8,3.5,3.1,3.4,5.0,6.6,9.0,10.3,8.8,7.0,
  6.1,
];
const C10 = [
  1.5,1.2,1.0,0.8,0.6,0.5,0.4,0.3,0.3,0.2, 0.2,0.2,0.1,0.1,0.1,0.2,0.3,0.2,0.1,0.1,
  0.1,0.1,0.1,0.2,0.1,0.1,0.1,0.1,0.1,0.1, 0.1,0.2,0.1,0.1,0.1,0.1,0.1,0.1,0.1,0.1,
  0.1,0.1,0.1,0.1,0.2,0.1,0.1,0.1,0.1,0.1, 0.1,0.1,0.1,0.1,0.1,0.1,0.2,0.1,0.1,0.1,
  0.1,0.1,0.1,0.1,0.1,0.1,0.1,0.1,0.2,0.1, 0.1,0.1,0.1,0.1,0.1,0.1,0.1,0.1,0.1,0.1,
  0.2,0.1,0.1,0.1,0.1,0.1,0.1,0.1,0.1,0.1, 0.1,0.1,0.2,0.1,0.1,0.1,0.1,0.1,0.1,0.1,
  0.1,
];
const C11 = [
  1.0,0.7,0.9,0.6,0.4,0.3,0.2,0.2,0.1,0.1, 0.1,0.1,0.1,0.1,0.2,0.1,0.1,0.1,0.1,0.1,
  0.1,0.1,0.1,0.1,0.1,0.1,0.2,0.1,0.1,0.1, 0.1,0.1,0.1,0.1,0.1,0.2,0.1,0.1,0.1,0.1,
  0.1,0.1,0.1,0.1,0.1,0.1,0.1,0.1,0.1,0.2, 0.1,0.1,0.1,0.1,0.1,0.1,0.1,0.1,0.1,0.1,
  0.1,0.1,0.2,0.1,0.1,0.1,0.1,0.1,0.1,0.1, 0.1,0.1,0.1,0.1,0.1,0.1,0.2,0.1,0.1,0.1,
  0.1,0.1,0.1,0.1,0.1,0.1,0.1,0.1,0.1,0.1, 0.2,0.1,0.1,0.1,0.1,0.1,0.1,0.1,0.1,0.1,
  0.1,
];
const C12 = [
  0.6,0.9,0.7,0.5,0.3,0.2,0.3,0.4,0.3,0.2, 0.1,0.1,0.1,0.2,0.1,0.1,0.1,0.1,0.1,0.1,
  0.1,0.2,0.1,0.1,0.1,0.1,0.1,0.1,0.1,0.1, 0.1,0.1,0.1,0.2,0.1,0.1,0.1,0.1,0.1,0.1,
  0.1,0.1,0.1,0.1,0.1,0.1,0.1,0.2,0.1,0.1, 0.1,0.1,0.1,0.1,0.1,0.1,0.1,0.1,0.1,0.1,
  0.2,0.1,0.1,0.1,0.1,0.1,0.1,0.1,0.1,0.1, 0.1,0.1,0.1,0.1,0.2,0.1,0.1,0.1,0.1,0.1,
  0.1,0.1,0.1,0.1,0.1,0.1,0.2,0.1,0.1,0.1, 0.1,0.1,0.1,0.1,0.1,0.1,0.1,0.1,0.2,0.1,
  0.1,
];
const C13 = [
  1.3,1.1,0.8,0.6,0.5,0.7,0.9,0.6,0.4,0.3, 0.2,0.2,0.1,0.1,0.1,0.1,0.2,0.1,0.1,0.1,
  0.1,0.1,0.1,0.1,0.1,0.2,0.1,0.1,0.1,0.1, 0.1,0.1,0.1,0.1,0.1,0.1,0.1,0.2,0.1,0.1,
  0.1,0.1,0.1,0.1,0.1,0.1,0.1,0.1,0.1,0.1, 0.1,0.2,0.1,0.1,0.1,0.1,0.1,0.1,0.1,0.1,
  0.1,0.1,0.1,0.1,0.1,0.2,0.1,0.1,0.1,0.1, 0.1,0.1,0.1,0.1,0.1,0.1,0.1,0.1,0.2,0.1,
  0.1,0.1,0.1,0.1,0.1,0.1,0.1,0.1,0.1,0.1, 0.1,0.1,0.1,0.1,0.2,0.1,0.1,0.1,0.1,0.1,
  0.1,
];

// ---------- styling ----------
const RED = '#f77189', ORANGE = '#e8744f', SALMON = '#f2886c', GOLD = '#dc8a36', OLIVE = '#b3a033',
  GREEN = '#59ad46', TEALG = '#36ad86', TEAL = '#38aaa6', CYAN = '#26a8d4', SKY = '#3b9ee6',
  BLUE = '#6f9cf2', PURPLE = '#a98ef2', ORCHID = '#d27ce9', PINK = '#f06ac4', HOTPINK = '#f26182';

const FONT = "'Liberation Serif', 'DejaVu Serif', serif";

type PanelCfg = {
  label: string; padLeft: number; axisW: number; padRight: number; showN: boolean;
  series: number[][]; colors: string[]; mean: number[];
};

const PANELS: PanelCfg[] = [
  {
    label: PANEL_LABELS[0], padLeft: 0, axisW: 67, padRight: 545, showN: true,
    series: [A1, A2, A3, A4, A5, A6, A7, A8, A9, A10, A11, A12, A13, A14, A15],
    colors: [ORCHID, CYAN, GOLD, GREEN, OLIVE, RED, PURPLE, TEAL, PINK, BLUE, TEALG, PINK, PURPLE, ORANGE, CYAN],
    mean: MEAN_A,
  },
  {
    label: PANEL_LABELS[1], padLeft: 290, axisW: 44, padRight: 279, showN: false,
    series: [B1, B2, B3, B4, B5, B6, B7, B8, B9, B10, B11, B12, B13, B14],
    colors: [ORANGE, SALMON, SKY, CYAN, OLIVE, PINK, PURPLE, GREEN, TEAL, RED, BLUE, GREEN, ORCHID, TEALG],
    mean: MEAN_B,
  },
  {
    label: PANEL_LABELS[2], padLeft: 560, axisW: 41, padRight: 12, showN: false,
    series: [C1, C2, C3, C4, C5, C6, C7, C8, C9, C10, C11, C12, C13],
    colors: [BLUE, CYAN, PINK, HOTPINK, RED, OLIVE, TEAL, GREEN, ORANGE, PURPLE, TEALG, GOLD, ORCHID],
    mean: MEAN_C,
  },
];

function rgba(hex: string, a: number) {
  const r = parseInt(hex.slice(1, 3), 16), g = parseInt(hex.slice(3, 5), 16), b = parseInt(hex.slice(5, 7), 16);
  return `rgba(${r},${g},${b},${a})`;
}

const inwardTicks = {
  id: 'inwardTicks',
  afterDraw(chart: any) {
    const { ctx, chartArea, scales } = chart;
    ctx.save();
    ctx.strokeStyle = '#000';
    ctx.lineWidth = 1;
    ctx.beginPath();
    scales.y.ticks.forEach((t: any) => {
      const y = Math.round(scales.y.getPixelForValue(t.value)) + 0.5;
      ctx.moveTo(chartArea.left, y);
      ctx.lineTo(chartArea.left + 5, y);
    });
    scales.x.ticks.forEach((t: any) => {
      const x = Math.round(scales.x.getPixelForValue(t.value)) + 0.5;
      ctx.moveTo(x, chartArea.bottom);
      ctx.lineTo(x, chartArea.bottom - 5);
    });
    ctx.stroke();
    ctx.restore();
  },
};

const panelLabel = {
  id: 'panelLabel',
  afterDraw(chart: any, _args: any, opts: any) {
    const { ctx, chartArea } = chart;
    ctx.save();
    ctx.font = `italic 19px ${FONT}`;
    ctx.fillStyle = '#000';
    ctx.textAlign = 'right';
    ctx.textBaseline = 'alphabetic';
    ctx.fillText(opts.text, chartArea.right, 30);
    ctx.restore();
  },
};

function Panel({ cfg }: { cfg: PanelCfg }) {
  const ref = useRef<HTMLCanvasElement>(null);
  useEffect(() => {
    const datasets: any[] = [
      {
        data: T.map((t, i) => ({ x: t, y: cfg.mean[i] })),
        borderColor: '#000', borderWidth: 2, pointRadius: 0,
      },
      ...cfg.series.map((s, k) => ({
        data: T.map((t, i) => ({ x: t, y: s[i] })),
        borderColor: rgba(cfg.colors[k], 0.85), borderWidth: 1, pointRadius: 0,
      })),
    ];
    const chart = new Chart(ref.current!, {
      type: 'line',
      data: { datasets },
      plugins: [inwardTicks, panelLabel],
      options: {
        animation: false,
        responsive: false,
        devicePixelRatio: 1,
        layout: { padding: { left: cfg.padLeft, right: cfg.padRight, top: 13, bottom: 0 } },
        elements: { line: { tension: 0 }, point: { radius: 0 } },
        plugins: {
          legend: { display: false },
          tooltip: { enabled: false },
          // @ts-ignore
          panelLabel: { text: cfg.label },
        },
        scales: {
          x: {
            type: 'linear', min: 0, max: 200,
            afterBuildTicks: (s: any) => { s.ticks = X_TICKS.map((v) => ({ value: v })); },
            ticks: { color: '#111', padding: 0, font: { family: FONT, size: 14 }, maxRotation: 0 },
            grid: { display: false, drawTicks: true, tickLength: 8 },
            border: { display: true, color: '#000', width: 1.5 },
            title: { display: true, text: 't', color: '#000', font: { family: FONT, size: 20, style: 'italic' }, padding: { top: 0, bottom: 6 } },
            afterFit: (s: any) => { s.height = 54; },
          },
          y: {
            min: 0, max: 25,
            afterBuildTicks: (s: any) => { s.ticks = Y_TICKS.map((v) => ({ value: v })); },
            ticks: { color: '#111', padding: 0, font: { family: FONT, size: 14 } },
            grid: { display: false, drawTicks: true, tickLength: 10 },
            border: { display: true, color: '#000', width: 1.5 },
            title: { display: cfg.showN, text: 'n', color: '#000', font: { family: FONT, size: 20, style: 'italic' }, padding: { top: 11, bottom: 0 } },
            afterFit: (s: any) => { s.width = cfg.axisW; },
          },
        },
      } as any,
    });
    return () => chart.destroy();
  }, []);
  return (
    <canvas ref={ref} width={830} height={277}
      style={{ position: 'absolute', left: 0, top: 0, width: 830, height: 277 }} />
  );
}

export default function App() {
  return (
    <div style={{ position: 'absolute', left: 0, top: 0, width: 830, height: 277, background: '#fff' }}>
      {PANELS.map((p) => <Panel key={p.label} cfg={p} />)}
    </div>
  );
}
